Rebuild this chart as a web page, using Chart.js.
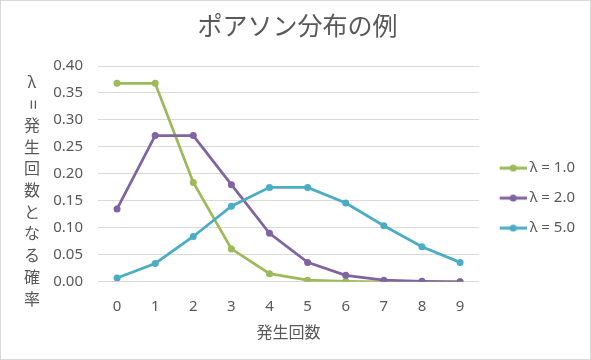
<!DOCTYPE html>
<html>
<head>
<meta charset="utf-8">
<script src="https://cdn.jsdelivr.net/npm/chart.js@4"></script>
<style>
  body { margin: 0; background: #fff; }
  #wrap { width: 591px; height: 360px; box-sizing: border-box; border: 1px solid #d9d9d9; }
</style>
</head>
<body>
<div id="wrap"><canvas id="canvas1"></canvas></div>
<script>
// counts on the x axis
const counts = ['0', '1', '2', '3', '4', '5', '6', '7', '8', '9']

// probabilities
const lambda1 = [0.368, 0.368, 0.184, 0.061, 0.015, 0.003, 0.001, 0.000, 0.000, 0.000]
const lambda2 = [0.135, 0.271, 0.271, 0.180, 0.090, 0.036, 0.012, 0.003, 0.001, 0.000]
const lambda5 = [0.007, 0.034, 0.084, 0.140, 0.175, 0.175, 0.146, 0.104, 0.065, 0.036]

const seriesNames = ['λ = 1.0', 'λ = 2.0', 'λ = 5.0']
const colors = ['#9bbb59', '#8064a2', '#4bacc6']

const yTitleChars = ['λ', '=', '発', '生', '回', '数', 'と', 'な', 'る', '確', '率']

const fontFamily = "'Noto Sans', 'Noto Sans CJK JP', sans-serif"
const textColor = '#595959'

// line-with-dot icon for the legend (extra room on the left so it sits a bit right)
function legendIcon(color) {
    const c = document.createElement('canvas')
    c.width = 37
    c.height = 8
    const ctx = c.getContext('2d')
    ctx.strokeStyle = color
    ctx.lineWidth = 3
    ctx.beginPath()
    ctx.moveTo(10, 4)
    ctx.lineTo(37, 4)
    ctx.stroke()
    ctx.fillStyle = color
    ctx.beginPath()
    ctx.arc(23.5, 4, 3.5, 0, Math.PI * 2)
    ctx.fill()
    return c
}

const icons = colors.map(legendIcon)

function makeDataset(label, data, color, order) {
    return {
        label: label,
        data: data,
        borderColor: color,
        backgroundColor: color,
        borderWidth: 2.75,
        pointRadius: 3.5,
        pointBorderWidth: 0,
        pointStyle: 'circle',
        tension: 0,
        order: order
    }
}

// vertical axis title, one character per line
const verticalTitle = {
    id: 'verticalTitle',
    afterDraw(chart) {
        const ctx = chart.ctx
        ctx.save()
        ctx.font = '16px ' + fontFamily
        ctx.fillStyle = textColor
        ctx.textAlign = 'center'
        ctx.textBaseline = 'middle'
        yTitleChars.forEach((ch, i) => {
            const y = 82 + i * 21.7
            if (ch === '=') {
                ctx.save()
                ctx.translate(31, y)
                ctx.rotate(Math.PI / 2)
                ctx.font = '18px ' + fontFamily
                ctx.fillText(ch, 0, 0)
                ctx.restore()
            } else {
                ctx.fillText(ch, 31, y)
            }
        })
        ctx.restore()
    }
}

const config = {
    type: 'line',
    data: {
        labels: counts,
        datasets: [
            makeDataset(seriesNames[0], lambda1, colors[0], 3),
            makeDataset(seriesNames[1], lambda2, colors[1], 2),
            makeDataset(seriesNames[2], lambda5, colors[2], 1)
        ]
    },
    options: {
        responsive: true,
        maintainAspectRatio: false,
        animation: false,
        layout: {
            padding: { top: 0, bottom: 16, left: 9, right: 5 }
        },
        plugins: {
            title: {
                display: true,
                text: 'ポアソン分布の例',
                color: textColor,
                font: { size: 25, weight: 'normal', family: fontFamily },
                padding: { top: 12, bottom: 23 }
            },
            legend: {
                display: true,
                position: 'right',
                title: {
                    display: true,
                    text: '',
                    font: { size: 1 },
                    padding: { top: 51, bottom: 0 }
                },
                labels: {
                    color: textColor,
                    font: { size: 15, family: fontFamily },
                    usePointStyle: true,
                    pointStyleWidth: 28,
                    boxHeight: 8,
                    padding: 15,
                    generateLabels(chart) {
                        return chart.data.datasets.map((ds, i) => ({
                            text: ds.label,
                            pointStyle: icons[i],
                            fillStyle: ds.borderColor,
                            strokeStyle: ds.borderColor,
                            fontColor: textColor,
                            lineWidth: 0,
                            hidden: false,
                            datasetIndex: i
                        }))
                    }
                }
            },
            tooltip: { enabled: false }
        },
        scales: {
            x: {
                offset: true,
                grid: { display: false },
                border: { display: false },
                ticks: {
                    color: textColor,
                    font: { size: 15, family: fontFamily },
                    padding: 8
                },
                title: {
                    display: true,
                    text: '発生回数',
                    color: textColor,
                    font: { size: 16, family: fontFamily },
                    padding: { top: 0, bottom: 0 }
                }
            },
            y: {
                min: 0,
                max: 0.4,
                border: { display: false },
                grid: { color: '#d9d9d9', drawTicks: false },
                ticks: {
                    stepSize: 0.05,
                    color: textColor,
                    font: { size: 15, family: fontFamily },
                    padding: 15,
                    callback: value => value.toFixed(2)
                },
                afterFit(scale) {
                    scale.width = 88
                }
            }
        }
    },
    plugins: [verticalTitle]
}

new Chart(document.getElementById('canvas1').getContext('2d'), config)
</script>
</body>
</html>
